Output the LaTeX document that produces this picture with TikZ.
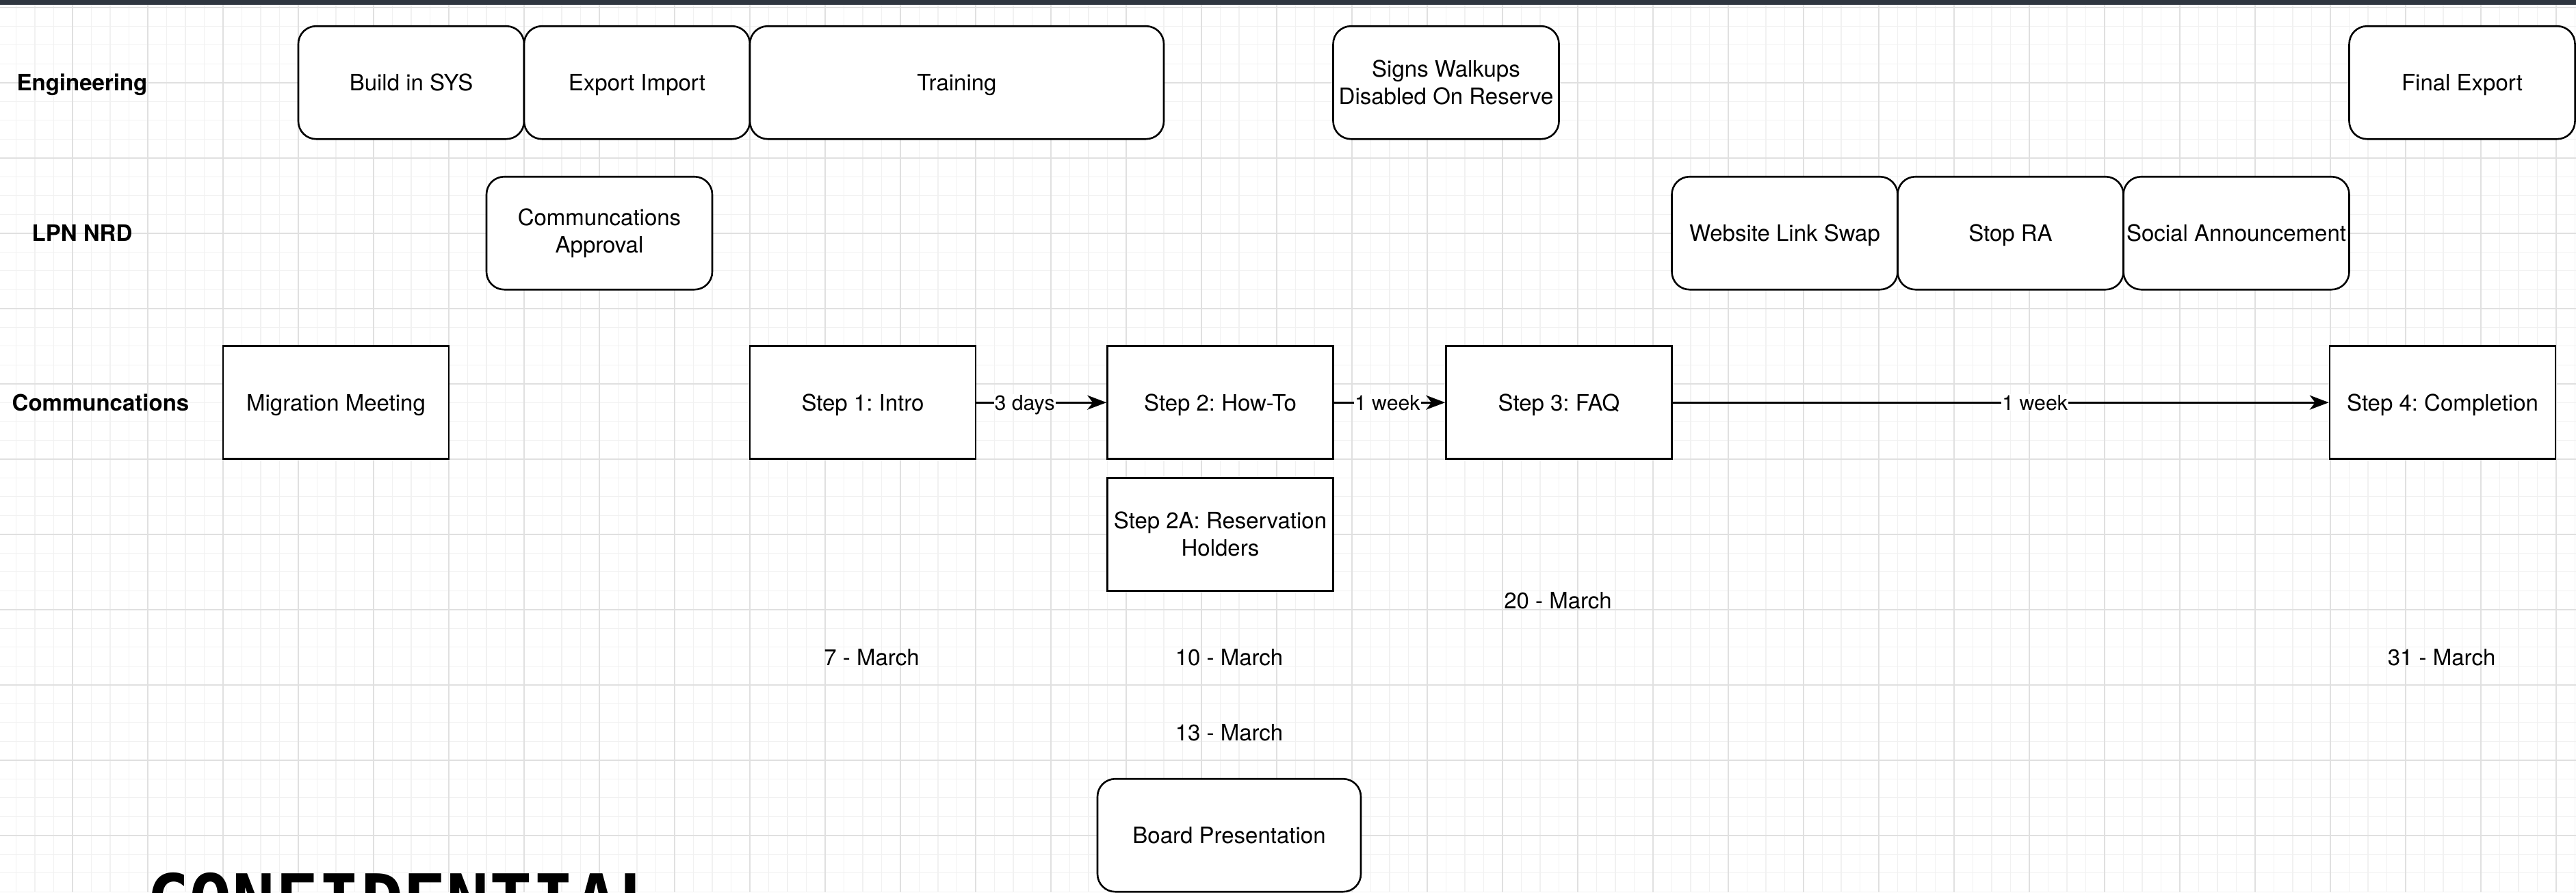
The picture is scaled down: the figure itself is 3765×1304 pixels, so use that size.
\documentclass[tikz,border=0pt]{standalone}
\usepackage{fontspec}
\setmainfont{TeX Gyre Heros}
\newfontfamily\conffont{DejaVu Sans Mono}
\usetikzlibrary{arrows.meta}
\definecolor{topbar}{RGB}{47,54,64}
\definecolor{gridminor}{RGB}{241,241,241}
\definecolor{gridmajor}{RGB}{224,224,224}
\frenchspacing
\begin{document}
\begin{tikzpicture}[x=1pt,y=-1pt,
  box/.style={draw=black, line width=2.6pt, fill=white, minimum width=330pt, minimum height=165pt, inner sep=0pt, align=center, font=\fontsize{33}{39.6}\selectfont},
  rbox/.style={box, rounded corners=26pt},
  oneline/.style={text height=23.8pt, text depth=0pt},
  lane/.style={font=\bfseries\fontsize{33}{39.6}\selectfont, inner sep=0pt, text height=23.8pt, text depth=0pt},
  datelbl/.style={font=\fontsize{33}{39.6}\selectfont, inner sep=0pt, anchor=base},
  flow/.style={line width=2.6pt, -{Stealth[length=28pt,width=21pt,inset=8pt]}},
  elabel/.style={fill=white, inner sep=1pt, font=\fontsize{30.25}{36}\selectfont, text height=21.8pt, text depth=0pt}
]
\useasboundingbox (0,0) rectangle (3765,1304);
\clip (0,0) rectangle (3765,1304);
\fill[white] (0,0) rectangle (3765,1304);
% grid
\foreach \k in {0,...,137} \draw[gridminor, line width=1.4pt] ({-4+27.5*\k},0) -- ({-4+27.5*\k},1304);
\foreach \k in {0,...,47} \draw[gridminor, line width=1.4pt] (0,{10.7+27.5*\k}) -- (3765,{10.7+27.5*\k});
\foreach \k in {0,...,34} \draw[gridmajor, line width=2pt] ({-4+110*\k},0) -- ({-4+110*\k},1304);
\foreach \k in {0,...,11} \draw[gridmajor, line width=2pt] (0,{10.7+110*\k}) -- (3765,{10.7+110*\k});
\fill[topbar] (0,0) rectangle (3765,7);

% lane labels
\node[lane] (leng) at (120,120.7) {Engineering};
\node[lane] (llpn) at (120,340.7) {LPN NRD};
\node[lane] (lcom) at (147,588.2) {Communcations};

% engineering row
\node[rbox, oneline] (build) at (601,120.7) {Build in SYS};
\node[rbox, oneline] (export) at (931,120.7) {Export Import};
\node[rbox, oneline, minimum width=605pt] (training) at (1398.5,120.7) {Training};
\node[rbox] (signs) at (2113.5,120.7) {Signs Walkups\\Disabled On Reserve};
\node[rbox, oneline] (final) at (3598.5,120.7) {Final Export};

% LPN NRD row
\node[rbox] (commapp) at (876,340.7) {Communcations\\Approval};
\node[rbox, oneline] (website) at (2608.5,340.7) {Website Link Swap};
\node[rbox, oneline] (stopra) at (2938.5,340.7) {Stop RA};
\node[rbox, oneline] (social) at (3268.5,340.7) {Social Announcement};

% communications row
\node[box, oneline] (migr) at (491,588.2) {Migration Meeting};
\node[box, oneline] (step1) at (1261,588.2) {Step 1: Intro};
\node[box, oneline] (step2) at (1783.5,588.2) {Step 2: How-To};
\node[box, oneline] (step3) at (2278.5,588.2) {Step 3: FAQ};
\node[box, oneline] (step4) at (3570,588.2) {Step 4: Completion};
\node[box] (step2a) at (1783.5,780.7) {Step 2A: Reservation\\Holders};

% connectors
\draw[flow] (step1) -- node[elabel, pos=0.37] (l3d) {3 days} (step2);
\draw[flow] (step2) -- node[elabel, pos=0.48] (l1w) {1 week} (step3);
\draw[flow] (step3) -- node[elabel, pos=0.552] (l1wb) {1 week} (step4);

% dates
\node[datelbl] (d20) at (2277,889) {20 - March};
\node[datelbl] (d7) at (1274,972) {7 - March};
\node[datelbl] (d10) at (1796.5,972) {10 - March};
\node[datelbl] (d13) at (1796.5,1082) {13 - March};
\node[datelbl] (d31) at (3568.5,972) {31 - March};

% board
\node[rbox, oneline, minimum width=385pt] (board) at (1796.5,1220.7) {Board Presentation};

% watermark (cut off by the lower edge, as in the reference)
\node[anchor=base west, inner sep=0pt, font=\conffont\bfseries\fontsize{104}{104}\selectfont] (conf) at (214,1352) {CONFIDENTIAL};
\end{tikzpicture}
\end{document}
